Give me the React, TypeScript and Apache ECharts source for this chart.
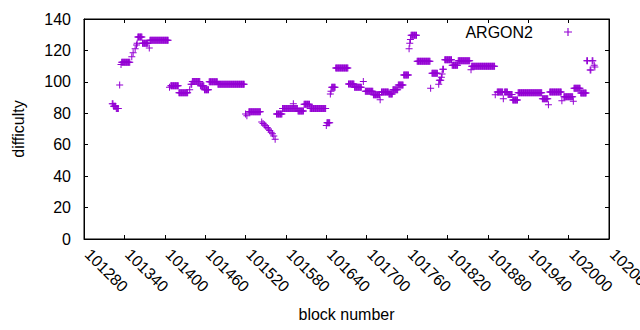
import React, { useEffect, useRef } from "react";
import * as echarts from "echarts";

// Runs of consecutive blocks sharing one difficulty value (single points have from === to)
const runFrom = [
  101322, 101324, 101328, 101333, 101335, 101336, 101351, 101353, 101356, 101358,
  101359, 101360, 101367, 101377, 101378, 101407, 101409, 101421, 101437, 101439,
  101441, 101453, 101459, 101466, 101479, 101520, 101522, 101525, 101544, 101546,
  101548, 101550, 101552, 101554, 101556, 101558, 101560, 101562, 101564, 101566,
  101575, 101591, 101598, 101607, 101616, 101640, 101641, 101646, 101647, 101648,
  101654, 101673, 101682, 101695, 101698, 101710, 101720, 101722, 101733, 101739,
  101747, 101755, 101763, 101764, 101765, 101766, 101775, 101795, 101797, 101807,
  101808, 101811, 101812, 101813, 101816, 101827, 101836, 101855, 101856, 101891,
  101894, 101903, 101905, 101910, 101917, 101925, 101961, 101970, 101972, 101990,
  101993, 102007, 102008, 102018, 102027, 102032, 102035, 102038, 102039,
];
const runTo = [
  101323, 101327, 101331, 101333, 101335, 101348, 101351, 101353, 101356, 101358,
  101359, 101366, 101375, 101377, 101405, 101407, 101420, 101434, 101437, 101440,
  101452, 101458, 101465, 101478, 101518, 101520, 101522, 101542, 101544, 101546,
  101548, 101550, 101552, 101554, 101556, 101558, 101560, 101562, 101564, 101574,
  101597, 101591, 101606, 101615, 101639, 101640, 101645, 101646, 101647, 101653,
  101672, 101681, 101692, 101695, 101709, 101719, 101720, 101732, 101738, 101746,
  101754, 101762, 101763, 101764, 101765, 101774, 101794, 101795, 101805, 101807,
  101810, 101811, 101812, 101814, 101826, 101835, 101853, 101855, 101890, 101891,
  101902, 101903, 101909, 101916, 101924, 101960, 101969, 101970, 101989, 101990,
  102006, 102007, 102017, 102026, 102028, 102033, 102036, 102038, 102039,
];
const runValue = [
  86, 84.5, 83, 98, 111, 112.5, 116, 118.5, 121, 123.5,
  124.5, 128.5, 124.5, 121.5, 126.5, 96.5, 97.5, 93, 95, 98.5,
  100.3, 97.5, 95, 100, 98.5, 79.5, 78.5, 81, 74.5, 73.5,
  72.5, 72, 71, 70, 69, 68, 67, 65.5, 63.5, 79.5,
  83, 86, 81.5, 85.7, 83, 72.3, 74, 92.3, 94, 96.6,
  108.8, 98.6, 96.5, 100.3, 94, 91.8, 88.6, 93.5, 92.3, 95,
  98, 104.4, 121, 124.5, 127, 129.6, 113.1, 96, 105.5, 98.5,
  101, 103, 105, 108, 114, 110.6, 113.5, 107.7, 110, 91.8,
  93.5, 89.3, 93.5, 92, 88.5, 93, 89.3, 85.5, 93.5, 88,
  90.6, 87.6, 96, 92.9, 113.5, 107.5, 113.5, 110.5, 109.5,
];

const xTickMin = 101280;
const xTickMax = 102060;
const xTickStep = 60;
const yTickMin = 0;
const yTickMax = 140;
const yTickStep = 20;
const seriesName = "ARGON2";

const PLUS = "path://M3,0h1v3h3v1h-3v3h-1v-3h-3v-1h3z";
const FONT = "'Liberation Sans', Arial, sans-serif";

export default function App() {
  const ref = useRef<HTMLDivElement>(null);
  useEffect(() => {
    if (!ref.current) return;
    const chart = echarts.init(ref.current, null, { renderer: "svg" });
    const data: number[][] = [];
    for (let i = 0; i < runFrom.length; i++) {
      for (let b = runFrom[i]; b <= runTo[i]; b++) data.push([b, runValue[i]]);
    }
    const tick = { show: true, inside: true, length: 4, lineStyle: { color: "#000", width: 1 } };
    const line = { show: true, onZero: false, lineStyle: { color: "#000", width: 1 } };
    chart.setOption({
      animation: false,
      grid: {
        left: 84, right: 31, top: 19, bottom: 91,
        show: true, borderColor: "#000", borderWidth: 1,
        containLabel: false, outerBoundsMode: "none",
      },
      legend: {
        data: [{ name: seriesName, icon: PLUS }],
        right: 63, top: 19, align: "right",
        itemWidth: 8, itemHeight: 8,
        textStyle: { fontSize: 16, color: "#000", fontFamily: FONT, padding: [0, 26, 0, 0] },
      },
      xAxis: [
        {
          type: "value", position: "bottom",
          min: xTickMin, max: xTickMax, interval: xTickStep,
          name: "block number", nameLocation: "middle", nameGap: 67,
          nameTextStyle: { fontSize: 16, color: "#000", fontFamily: FONT },
          axisLine: line, axisTick: tick,
          axisLabel: {
            rotate: -45, margin: 9, color: "#000", fontSize: 16, fontFamily: FONT,
            padding: [0, 0, 10, 5],
            showMaxLabel: true, showMinLabel: true,
            formatter: (v: number) => String(v),
          },
          splitLine: { show: false },
        },
        {
          type: "value", position: "top",
          min: xTickMin, max: xTickMax, interval: xTickStep,
          axisLine: line, axisTick: tick,
          axisLabel: { show: false }, splitLine: { show: false },
        },
      ],
      yAxis: [
        {
          type: "value", position: "left",
          min: yTickMin, max: yTickMax, interval: yTickStep,
          name: "difficulty", nameLocation: "middle", nameGap: 58,
          nameTextStyle: { fontSize: 16, color: "#000", fontFamily: FONT },
          axisLine: line, axisTick: tick,
          axisLabel: { margin: 13, color: "#000", fontSize: 16, fontFamily: FONT },
          splitLine: { show: false },
        },
        {
          type: "value", position: "right",
          min: yTickMin, max: yTickMax, interval: yTickStep,
          axisLine: line, axisTick: tick,
          axisLabel: { show: false }, splitLine: { show: false },
        },
      ],
      series: [
        {
          name: seriesName, type: "scatter",
          xAxisIndex: 0, yAxisIndex: 0,
          symbol: PLUS, symbolSize: 7,
          itemStyle: { color: "#9400d3", opacity: 1 },
          emphasis: { disabled: true },
          data,
        },
      ],
    });
    return () => chart.dispose();
  }, []);
  return (
    <div
      ref={ref}
      style={{ position: "fixed", left: 0, top: 0, width: 640, height: 330, background: "#fff" }}
    />
  );
}
